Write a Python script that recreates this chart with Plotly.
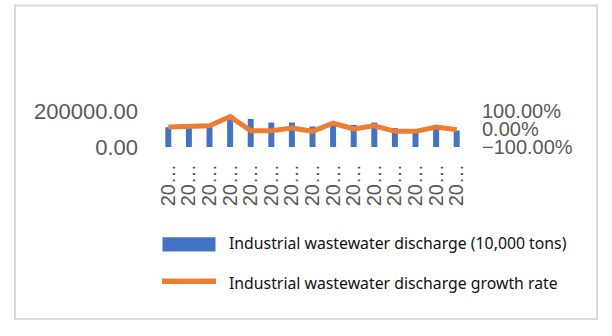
import plotly.graph_objects as go

# ---- data ----
categories = ["c%02d" % i for i in range(1, 16)]
tick_labels = ["20…"] * 15
discharge = [110000, 113000, 113000, 178000, 156000, 136000, 136000, 114000,
             120000, 123000, 136000, 105000, 95000, 100000, 92000]
growth = [0.11, 0.14, 0.18, 0.69, -0.10, -0.10, 0.05, -0.13,
          0.32, 0.00, 0.18, -0.13, -0.13, 0.11, -0.04]
name_bar = "Industrial wastewater discharge (10,000 tons)"
name_line = "Industrial wastewater discharge growth rate"

BLUE = "#4472C4"
ORANGE = "#ED7D31"
GRID = "#D9D9D9"
TXT = "#595959"

W, H = 612, 336
L, R = 158, 467          # plot area x pixels
T, B = 111, 147.5        # plot area y pixels


def px(x):
    return (x - L) / (R - L)


def py(y):
    return (B - y) / (B - T)


fig = go.Figure()
fig.add_trace(go.Bar(x=categories, y=discharge, name=name_bar,
                     marker=dict(color=BLUE, line=dict(width=0)), yaxis="y"))
fig.add_trace(go.Scatter(x=categories, y=growth, name=name_line, mode="lines",
                         line=dict(color=ORANGE, width=5), yaxis="y2"))

fig.update_layout(
    width=W, height=H,
    margin=dict(l=L, r=W - R, t=T, b=H - B, pad=0),
    paper_bgcolor="white", plot_bgcolor="white",
    showlegend=False,
    bargap=0.71,
    font=dict(family="Liberation Sans, Arial, sans-serif", color=TXT, size=20),
    xaxis=dict(tickmode="array", tickvals=categories, ticktext=tick_labels,
               tickangle=-90, showgrid=False, showline=False, ticks="",
               tickfont=dict(size=20, color=TXT), ticklabelstandoff=12),
    yaxis=dict(range=[0, 200000], tickvals=[0, 200000], tickformat=".2f",
               showgrid=True, gridcolor=GRID, gridwidth=2, zeroline=False,
               showline=False, ticks="", ticklabelstandoff=19,
               tickfont=dict(size=22, color=TXT)),
    yaxis2=dict(range=[-1, 1], tickvals=[-1, 0, 1], tickformat=".2%",
                overlaying="y", side="right", showgrid=False, zeroline=False,
                showline=False, ticks="", ticklabelstandoff=14,
                tickfont=dict(size=20, color=TXT)),
)

shapes = [
    # outer border
    dict(type="rect", xref="paper", yref="paper",
         x0=px(15), x1=px(597), y0=py(322), y1=py(4),
         line=dict(color=GRID, width=2), fillcolor="rgba(0,0,0,0)", layer="below"),
    # legend symbols
    dict(type="rect", xref="paper", yref="paper",
         x0=px(162.5), x1=px(215.5), y0=py(253.5), y1=py(239),
         line=dict(width=0), fillcolor=BLUE),
    dict(type="line", xref="paper", yref="paper",
         x0=px(162), x1=px(216), y0=py(283.5), y1=py(283.5),
         line=dict(color=ORANGE, width=5.5)),
]
fig.update_layout(shapes=shapes)

for name, yc in [(name_bar, 245), (name_line, 285)]:
    fig.add_annotation(text=name, xref="paper", yref="paper",
                       x=px(227), y=py(yc), xanchor="left", yanchor="middle",
                       showarrow=False,
                       font=dict(family="Noto Sans, Open Sans, sans-serif",
                                 size=15.8, color="#111111"))

fig.write_html("out.html")
